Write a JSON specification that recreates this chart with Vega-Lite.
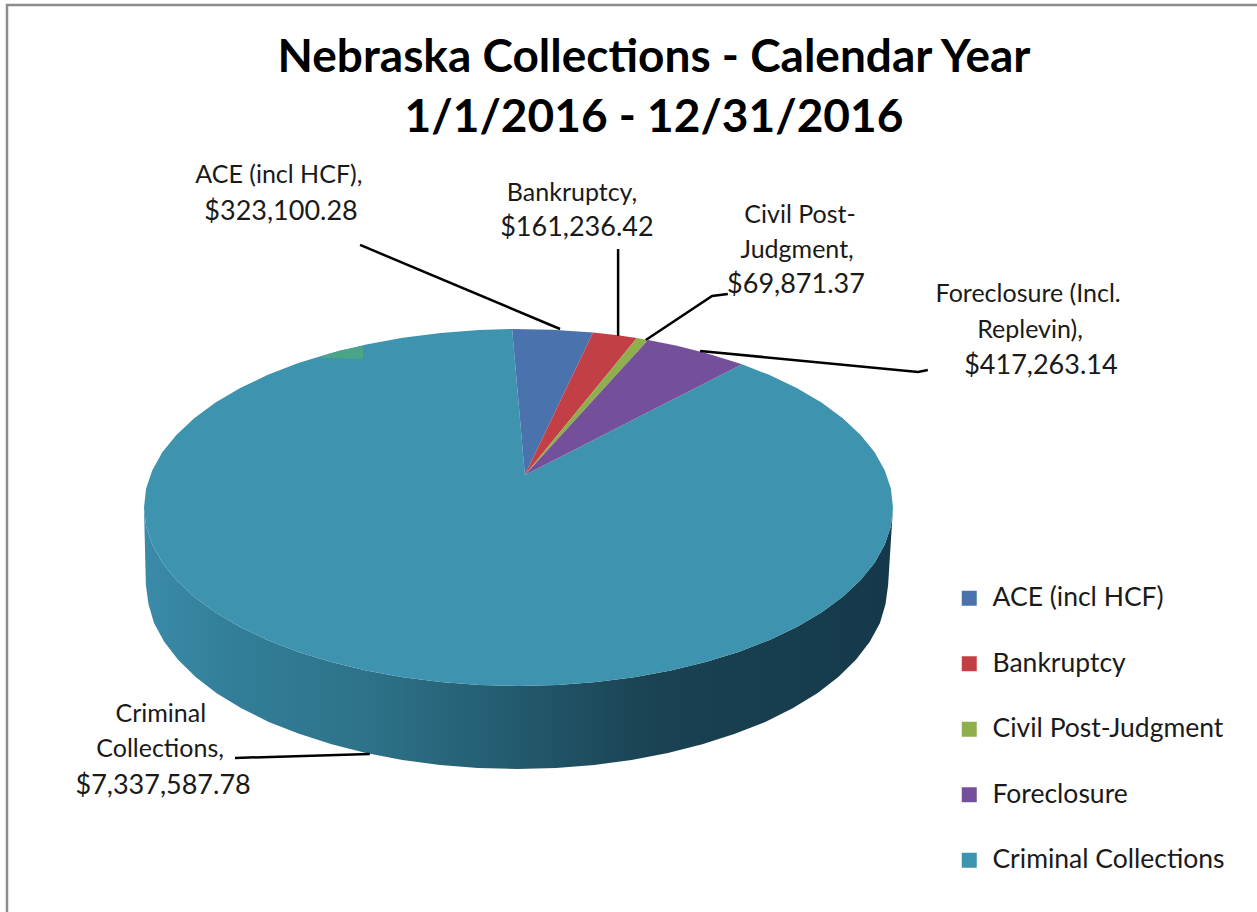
{
"$schema":"https://vega.github.io/schema/vega-lite/v6.json",
"width":1250,"height":907,
"autosize":"none",
"padding":{"left":7,"top":5,"right":0,"bottom":0},
"background":"#ffffff",
"config":{"view":{"stroke":null}},
"title":{"text":["Nebraska Collections - Calendar Year","1/1/2016 - 12/31/2016"],"font":"Lato","fontSize":46,"fontWeight":"bold","color":"#000000","anchor":"middle","frame":"group","baseline":"top","lineHeight":60,"dx":22,"dy":142,"offset":0},
"encoding":{
"x":{"field":"u","type":"quantitative","axis":null,"scale":{"domain":[-1.3658,1.972],"nice":false,"zero":false}},
"y":{"field":"v","type":"quantitative","axis":null,"scale":{"domain":[-2.2661,2.8151],"nice":false,"zero":false}}
},
"layer":[
{"description":"Chart frame, left and top edges",
"data":{"values":[{"seq":1,"u":-1.3658,"v":-2.2661},{"seq":2,"u":-1.3658,"v":2.8151},{"seq":3,"u":1.972,"v":2.8151}]},
"mark":{"type":"line","stroke":"#8c8c8c","strokeWidth":2.5},
"encoding":{"order":{"field":"seq"}}},
{"description":"Side wall of the disc, upper rim then lower rim",
"data":{"values":[
{"seq":1,"u":-1,"v":0},{"seq":2,"u":-0.9945,"v":-0.1045},{"seq":3,"u":-0.9781,"v":-0.2079},{"seq":4,"u":-0.9511,"v":-0.309},{"seq":5,"u":-0.9135,"v":-0.4067},{"seq":6,"u":-0.866,"v":-0.5},{"seq":7,"u":-0.809,"v":-0.5878},{"seq":8,"u":-0.7431,"v":-0.6691},{"seq":9,"u":-0.6691,"v":-0.7431},{"seq":10,"u":-0.5878,"v":-0.809},{"seq":11,"u":-0.5,"v":-0.866},{"seq":12,"u":-0.4067,"v":-0.9135},{"seq":13,"u":-0.309,"v":-0.9511},{"seq":14,"u":-0.2079,"v":-0.9781},{"seq":15,"u":-0.1045,"v":-0.9945},{"seq":16,"u":0,"v":-1},
{"seq":17,"u":0.1045,"v":-0.9945},{"seq":18,"u":0.2079,"v":-0.9781},{"seq":19,"u":0.309,"v":-0.9511},{"seq":20,"u":0.4067,"v":-0.9135},{"seq":21,"u":0.5,"v":-0.866},{"seq":22,"u":0.5878,"v":-0.809},{"seq":23,"u":0.6691,"v":-0.7431},{"seq":24,"u":0.7431,"v":-0.6691},{"seq":25,"u":0.809,"v":-0.5878},{"seq":26,"u":0.866,"v":-0.5},{"seq":27,"u":0.9135,"v":-0.4067},{"seq":28,"u":0.9511,"v":-0.309},{"seq":29,"u":0.9781,"v":-0.2079},{"seq":30,"u":0.9945,"v":-0.1045},{"seq":31,"u":1,"v":0},
{"seq":32,"u":0.987,"v":-0.434},{"seq":33,"u":0.98,"v":-0.5418},{"seq":34,"u":0.965,"v":-0.6484},{"seq":35,"u":0.938,"v":-0.7526},{"seq":36,"u":0.901,"v":-0.8533},{"seq":37,"u":0.854,"v":-0.9495},{"seq":38,"u":0.798,"v":-1.0401},{"seq":39,"u":0.732,"v":-1.1244},{"seq":40,"u":0.659,"v":-1.2011},{"seq":41,"u":0.578,"v":-1.2681},{"seq":42,"u":0.491,"v":-1.3269},{"seq":43,"u":0.399,"v":-1.3758},{"seq":44,"u":0.302,"v":-1.4146},{"seq":45,"u":0.202,"v":-1.4424},{"seq":46,"u":0.1,"v":-1.4593},{"seq":47,"u":-0.004,"v":-1.465},
{"seq":48,"u":-0.108,"v":-1.4593},{"seq":49,"u":-0.21,"v":-1.4424},{"seq":50,"u":-0.31,"v":-1.4146},{"seq":51,"u":-0.407,"v":-1.3758},{"seq":52,"u":-0.499,"v":-1.3269},{"seq":53,"u":-0.586,"v":-1.2681},{"seq":54,"u":-0.667,"v":-1.2011},{"seq":55,"u":-0.74,"v":-1.1244},{"seq":56,"u":-0.806,"v":-1.0401},{"seq":57,"u":-0.862,"v":-0.9495},{"seq":58,"u":-0.909,"v":-0.8533},{"seq":59,"u":-0.946,"v":-0.7526},{"seq":60,"u":-0.973,"v":-0.6484},{"seq":61,"u":-0.988,"v":-0.5418},{"seq":62,"u":-0.995,"v":-0.434}
]},
"mark":{"type":"line","stroke":null,"fill":{"gradient":"linear","x1":0,"y1":0,"x2":1,"y2":0,"stops":[{"offset":0,"color":"#3a8ba8"},{"offset":0.12,"color":"#327e98"},{"offset":0.3,"color":"#2d7289"},{"offset":0.48,"color":"#245c70"},{"offset":0.68,"color":"#1a4252"},{"offset":1,"color":"#15394a"}]}},
"encoding":{"order":{"field":"seq"}}},
{"description":"Pie slices on the top face, Criminal Collections running clockwise around the rim",
"data":{"values":[
{"category":"Criminal Collections","seq":0,"u":0.017,"v":0.182},{"category":"Criminal Collections","seq":1,"u":0.597,"v":0.802},{"category":"Criminal Collections","seq":2,"u":0.6691,"v":0.7431},{"category":"Criminal Collections","seq":3,"u":0.7431,"v":0.6691},{"category":"Criminal Collections","seq":4,"u":0.809,"v":0.5878},{"category":"Criminal Collections","seq":5,"u":0.866,"v":0.5},{"category":"Criminal Collections","seq":6,"u":0.9135,"v":0.4067},{"category":"Criminal Collections","seq":7,"u":0.9511,"v":0.309},{"category":"Criminal Collections","seq":8,"u":0.9781,"v":0.2079},{"category":"Criminal Collections","seq":9,"u":0.9945,"v":0.1045},{"category":"Criminal Collections","seq":10,"u":1,"v":0},
{"category":"Criminal Collections","seq":11,"u":0.9945,"v":-0.1045},{"category":"Criminal Collections","seq":12,"u":0.9781,"v":-0.2079},{"category":"Criminal Collections","seq":13,"u":0.9511,"v":-0.309},{"category":"Criminal Collections","seq":14,"u":0.9135,"v":-0.4067},{"category":"Criminal Collections","seq":15,"u":0.866,"v":-0.5},{"category":"Criminal Collections","seq":16,"u":0.809,"v":-0.5878},{"category":"Criminal Collections","seq":17,"u":0.7431,"v":-0.6691},{"category":"Criminal Collections","seq":18,"u":0.6691,"v":-0.7431},{"category":"Criminal Collections","seq":19,"u":0.5878,"v":-0.809},{"category":"Criminal Collections","seq":20,"u":0.5,"v":-0.866},{"category":"Criminal Collections","seq":21,"u":0.4067,"v":-0.9135},{"category":"Criminal Collections","seq":22,"u":0.309,"v":-0.9511},{"category":"Criminal Collections","seq":23,"u":0.2079,"v":-0.9781},{"category":"Criminal Collections","seq":24,"u":0.1045,"v":-0.9945},{"category":"Criminal Collections","seq":25,"u":0,"v":-1},
{"category":"Criminal Collections","seq":26,"u":-0.1045,"v":-0.9945},{"category":"Criminal Collections","seq":27,"u":-0.2079,"v":-0.9781},{"category":"Criminal Collections","seq":28,"u":-0.309,"v":-0.9511},{"category":"Criminal Collections","seq":29,"u":-0.4067,"v":-0.9135},{"category":"Criminal Collections","seq":30,"u":-0.5,"v":-0.866},{"category":"Criminal Collections","seq":31,"u":-0.5878,"v":-0.809},{"category":"Criminal Collections","seq":32,"u":-0.6691,"v":-0.7431},{"category":"Criminal Collections","seq":33,"u":-0.7431,"v":-0.6691},{"category":"Criminal Collections","seq":34,"u":-0.809,"v":-0.5878},{"category":"Criminal Collections","seq":35,"u":-0.866,"v":-0.5},{"category":"Criminal Collections","seq":36,"u":-0.9135,"v":-0.4067},{"category":"Criminal Collections","seq":37,"u":-0.9511,"v":-0.309},{"category":"Criminal Collections","seq":38,"u":-0.9781,"v":-0.2079},{"category":"Criminal Collections","seq":39,"u":-0.9945,"v":-0.1045},{"category":"Criminal Collections","seq":40,"u":-1,"v":0},
{"category":"Criminal Collections","seq":41,"u":-0.9945,"v":0.1045},{"category":"Criminal Collections","seq":42,"u":-0.9781,"v":0.2079},{"category":"Criminal Collections","seq":43,"u":-0.9511,"v":0.309},{"category":"Criminal Collections","seq":44,"u":-0.9135,"v":0.4067},{"category":"Criminal Collections","seq":45,"u":-0.866,"v":0.5},{"category":"Criminal Collections","seq":46,"u":-0.809,"v":0.5878},{"category":"Criminal Collections","seq":47,"u":-0.7431,"v":0.6691},{"category":"Criminal Collections","seq":48,"u":-0.6691,"v":0.7431},{"category":"Criminal Collections","seq":49,"u":-0.5878,"v":0.809},{"category":"Criminal Collections","seq":50,"u":-0.5,"v":0.866},{"category":"Criminal Collections","seq":51,"u":-0.4067,"v":0.9135},{"category":"Criminal Collections","seq":52,"u":-0.309,"v":0.9511},{"category":"Criminal Collections","seq":53,"u":-0.2079,"v":0.9781},{"category":"Criminal Collections","seq":54,"u":-0.1045,"v":0.9945},{"category":"Criminal Collections","seq":55,"u":-0.017,"v":1},
{"category":"ACE (incl HCF)","seq":0,"u":0.017,"v":0.182},{"category":"ACE (incl HCF)","seq":1,"u":-0.017,"v":1},{"category":"ACE (incl HCF)","seq":2,"u":0.09,"v":0.996},{"category":"ACE (incl HCF)","seq":3,"u":0.199,"v":0.98},
{"category":"Bankruptcy","seq":0,"u":0.017,"v":0.182},{"category":"Bankruptcy","seq":1,"u":0.199,"v":0.98},{"category":"Bankruptcy","seq":2,"u":0.26,"v":0.966},{"category":"Bankruptcy","seq":3,"u":0.316,"v":0.949},
{"category":"Civil Post-Judgment","seq":0,"u":0.017,"v":0.182},{"category":"Civil Post-Judgment","seq":1,"u":0.316,"v":0.949},{"category":"Civil Post-Judgment","seq":2,"u":0.346,"v":0.938},
{"category":"Foreclosure","seq":0,"u":0.017,"v":0.182},{"category":"Foreclosure","seq":1,"u":0.346,"v":0.938},{"category":"Foreclosure","seq":2,"u":0.42,"v":0.908},{"category":"Foreclosure","seq":3,"u":0.5,"v":0.866},{"category":"Foreclosure","seq":4,"u":0.597,"v":0.802}
]},
"mark":{"type":"line","stroke":null},
"encoding":{
"order":{"field":"seq"},
"fill":{"field":"category","type":"nominal","scale":{"domain":["ACE (incl HCF)","Bankruptcy","Civil Post-Judgment","Foreclosure","Criminal Collections"],"range":["#4a72ad","#c23f45","#8fae4c","#75509a","#3e93af"]},
"legend":{"orient":"none","legendX":949,"legendY":580,"title":null,"symbolType":"square","symbolSize":225,"symbolStrokeWidth":0,"labelFont":"Lato","labelFontSize":26.5,"labelColor":"#1a1a1a","labelOffset":10,"rowPadding":38.5,"labelLimit":300}}
}},
{"description":"Green fleck on the far rim",
"data":{"values":[{"seq":1,"u":-0.535,"v":0.838},{"seq":2,"u":-0.415,"v":0.832},{"seq":3,"u":-0.415,"v":0.905},{"seq":4,"u":-0.477,"v":0.879}]},
"mark":{"type":"line","stroke":null,"fill":"#4aa588"},
"encoding":{"order":{"field":"seq"}}},
{"description":"Leader lines from the data labels to the slices",
"data":{"values":[
{"series":"ace","seq":1,"u":-0.423,"v":1.471},{"series":"ace","seq":2,"u":0.111,"v":1.0},
{"series":"bankruptcy","seq":1,"u":0.266,"v":1.448},{"series":"bankruptcy","seq":2,"u":0.266,"v":0.961},
{"series":"civil","seq":1,"u":0.559,"v":1.196},{"series":"civil","seq":2,"u":0.517,"v":1.185},{"series":"civil","seq":3,"u":0.34,"v":0.938},
{"series":"foreclosure","seq":1,"u":1.093,"v":0.77},{"series":"foreclosure","seq":2,"u":1.067,"v":0.759},{"series":"foreclosure","seq":3,"u":0.485,"v":0.877},
{"series":"criminal","seq":1,"u":-0.757,"v":-1.403},{"series":"criminal","seq":2,"u":-0.397,"v":-1.381}
]},
"mark":{"type":"line","stroke":"#000000","strokeWidth":2.5},
"encoding":{"order":{"field":"seq"},"detail":{"field":"series"}}},
{"description":"Category lines of the data labels",
"data":{"values":[
{"line":"ACE (incl HCF),","u":-0.64,"v":1.863},
{"line":"Bankruptcy,","u":0.143,"v":1.762},
{"line":"Civil Post-","u":0.752,"v":1.639},
{"line":"Judgment,","u":0.744,"v":1.443},
{"line":"Foreclosure (Incl.","u":1.361,"v":1.196},
{"line":"Replevin),","u":1.366,"v":0.994},
{"line":"Criminal","u":-0.955,"v":-1.157},
{"line":"Collections,","u":-0.957,"v":-1.353}
]},
"mark":{"type":"text","font":"Lato","fontSize":25,"color":"#1a1a1a","align":"center","baseline":"middle"},
"encoding":{"text":{"field":"line","type":"nominal"}}},
{"description":"Dollar amounts of the data labels",
"data":{"values":[
{"amount":323100.28,"u":-0.634,"v":1.655},
{"amount":161236.42,"u":0.156,"v":1.566},
{"amount":69871.37,"u":0.741,"v":1.246},
{"amount":417263.14,"u":1.395,"v":0.793},
{"amount":7337587.78,"u":-0.949,"v":-1.56}
]},
"mark":{"type":"text","font":"Lato","fontSize":27,"color":"#1a1a1a","align":"center","baseline":"middle"},
"encoding":{"text":{"field":"amount","type":"quantitative","format":"$,.2f"}}}
]
}
